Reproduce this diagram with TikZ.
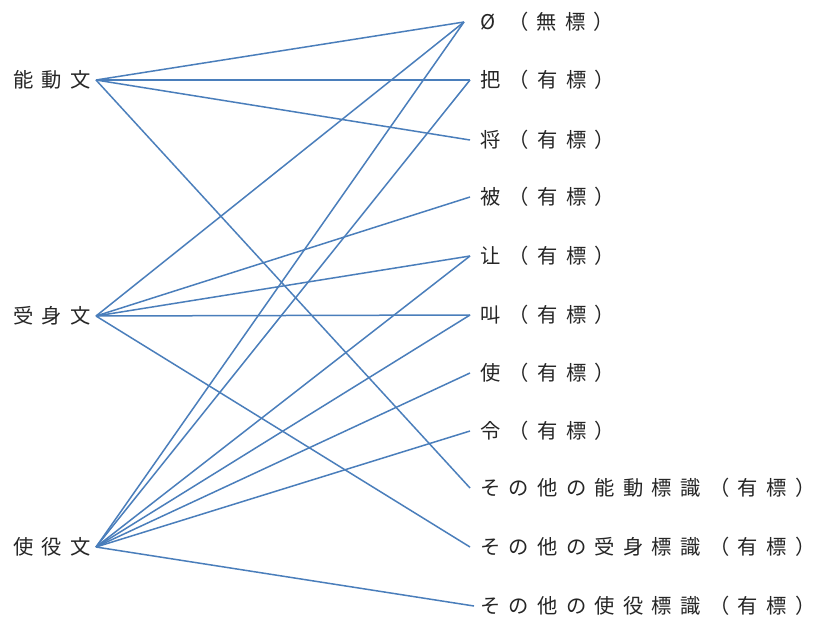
\documentclass[tikz,border=0pt]{standalone}
\usepackage{fontspec}
\newfontfamily\jp[LetterSpace=41]{Noto Sans CJK JP}
\newfontfamily\jpn{Noto Sans CJK JP}
\newcommand{\rp}{\kern8.3pt\makebox[0.3em][l]{\jpn ）}}
\definecolor{lnblue}{HTML}{4A7EBB}
\begin{document}
\begin{tikzpicture}[x=1pt,y=-1pt,
  lab/.style={font=\jp\fontsize{20.3}{20.3}\selectfont, text=black!85, inner ysep=0pt,
    text height=18pt, text depth=2.5pt},
  lft/.style={lab, anchor=east, inner xsep=5pt},
  rgt/.style={lab, anchor=west, inner xsep=0pt},
  conn/.style={draw=lnblue, line width=1.5pt}]
\fill[white] (0,0) rectangle (816,619);
\useasboundingbox (0,0) rectangle (816,619);
% left
\node[lft] (a) at (96,80) {能動文};
\node[lft] (p) at (96,316) {受身文};
\node[lft] (c) at (96,547) {使役文};
% right
\node[rgt] (r0) at (480,22) {Ø （無標\rp};
\node[rgt] (r1) at (480,80) {把（有標\rp};
\node[rgt] (r2) at (480,140) {将（有標\rp};
\node[rgt] (r3) at (480,197) {被（有標\rp};
\node[rgt] (r4) at (480,256) {让（有標\rp};
\node[rgt] (r5) at (480,315) {叫（有標\rp};
\node[rgt] (r6) at (480,373) {使（有標\rp};
\node[rgt] (r7) at (480,431) {令（有標\rp};
\node[rgt] (r8) at (480,488) {その他の能動標識（有標\rp};
\node[rgt] (r9) at (480,547) {その他の受身標識（有標\rp};
\node[rgt] (r10) at (480,606) {その他の使役標識（有標\rp};
% connectors
\tikzset{to/.style={xshift=-10pt}}
\draw[conn] (a.east) -- ([xshift=-16pt]r0.west);
\draw[conn] (a.east) -- ([to]r1.west);
\draw[conn] (a.east) -- ([to]r2.west);
\draw[conn] (a.east) -- ([to]r8.west);
\draw[conn] (p.east) -- ([xshift=-16pt]r0.west);
\draw[conn] (p.east) -- ([to]r3.west);
\draw[conn] (p.east) -- ([to]r4.west);
\draw[conn] (p.east) -- ([to]r5.west);
\draw[conn] (p.east) -- ([to]r9.west);
\draw[conn] (c.east) -- ([xshift=-16pt]r0.west);
\draw[conn] (c.east) -- ([to]r1.west);
\draw[conn] (c.east) -- ([to]r4.west);
\draw[conn] (c.east) -- ([to]r5.west);
\draw[conn] (c.east) -- ([to]r6.west);
\draw[conn] (c.east) -- ([to]r7.west);
\draw[conn] (c.east) -- ([xshift=-6pt]r10.west);
\end{tikzpicture}
\end{document}
